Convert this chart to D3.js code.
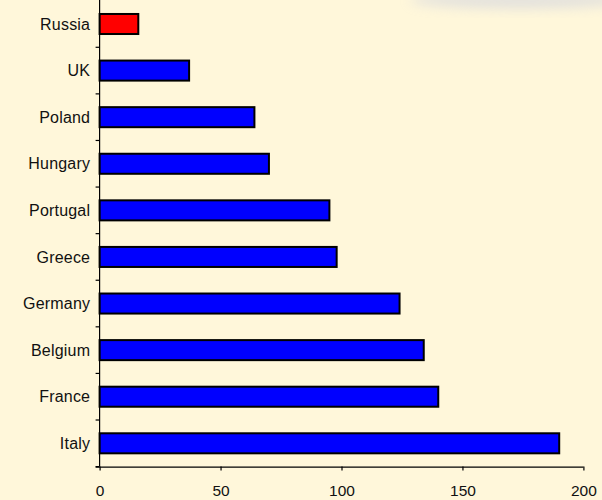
<!DOCTYPE html>
<html>
<head>
<meta charset="utf-8">
<script src="https://cdn.jsdelivr.net/npm/d3@7"></script>
<style>
  html, body { margin: 0; padding: 0; background: #FFF7DA; }
  svg { display: block; }
  text { font-family: "Liberation Sans", Arial, sans-serif; fill: #111; }
</style>
</head>
<body>
<svg id="chart" width="602" height="500"></svg>
<script>
// Countries, top to bottom
const countries = ["Russia", "UK", "Poland", "Hungary", "Portugal", "Greece", "Germany", "Belgium", "France", "Italy"];
const values = [16, 37, 64, 70, 95, 98, 124, 134, 140, 190];
const highlighted = ["Russia"];
const xTicks = [0, 50, 100, 150, 200];

const svg = d3.select("#chart");
const plotLeft = 99.6, plotRight = 583.4, plotTop = 0.7, plotBottom = 466.6;

// soft haze along the upper right edge
const defs = svg.append("defs");
defs.append("filter").attr("id", "haze").attr("x", "-50%").attr("y", "-50%").attr("width", "200%").attr("height", "200%")
  .append("feGaussianBlur").attr("stdDeviation", 6);
svg.append("ellipse")
  .attr("cx", 520).attr("cy", 0).attr("rx", 110).attr("ry", 9)
  .attr("fill", "#c9cde0").attr("opacity", 0.5).attr("filter", "url(#haze)");

const x = d3.scaleLinear().domain([0, 200]).range([plotLeft, plotRight]);
const y = d3.scaleBand().domain(countries).range([plotTop, plotBottom])
  .paddingInner(0.57).paddingOuter(0.285);

// bars
svg.append("g").selectAll("rect")
  .data(countries.map((c, i) => ({ c, v: values[i] })))
  .join("rect")
  .attr("x", x(0))
  .attr("y", d => y(d.c))
  .attr("width", d => x(d.v) - x(0))
  .attr("height", y.bandwidth())
  .attr("fill", d => highlighted.includes(d.c) ? "#ff0000" : "#0000ff")
  .attr("stroke", "#000")
  .attr("stroke-width", 2);

// x axis
const xAxis = svg.append("g")
  .attr("transform", `translate(0,${plotBottom})`)
  .call(d3.axisBottom(x).tickValues(xTicks).tickSize(4).tickPadding(14).tickFormat(d3.format("d")));
xAxis.select(".domain").attr("stroke", "#000").attr("stroke-width", 1.2)
  .attr("d", `M${plotLeft - 4},0.5H${plotRight}`);
xAxis.selectAll(".tick line").attr("stroke", "#000").attr("stroke-width", 1.2);
xAxis.selectAll(".tick text").attr("font-size", 15.5).attr("font-family", "Liberation Sans, Arial, sans-serif").attr("fill", "#111");

// y axis: labels centred on each band, ticks between bands
const yAxis = svg.append("g").attr("transform", `translate(${plotLeft},0)`);
yAxis.append("line")
  .attr("x1", 0).attr("x2", 0).attr("y1", 0).attr("y2", plotBottom)
  .attr("stroke", "#000").attr("stroke-width", 1.2);
const step = y.step();
const boundaries = d3.range(1, countries.length + 1).map(i => plotTop + i * step);
yAxis.selectAll("line.tick")
  .data(boundaries)
  .join("line")
  .attr("class", "tick")
  .attr("x1", -4).attr("x2", 0)
  .attr("y1", d => d).attr("y2", d => d)
  .attr("stroke", "#000").attr("stroke-width", 1.2);
yAxis.selectAll("text")
  .data(countries)
  .join("text")
  .attr("x", -9.4)
  .attr("y", d => y(d) + y.bandwidth() / 2)
  .attr("dy", "0.35em")
  .attr("text-anchor", "end")
  .attr("font-size", 16)
  .attr("letter-spacing", 0.2)
  .text(d => d);
</script>
</body>
</html>
